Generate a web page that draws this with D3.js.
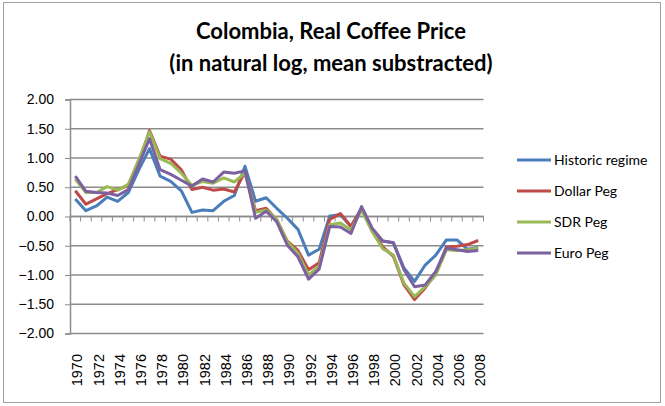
<!DOCTYPE html>
<html>
<head>
<meta charset="utf-8">
<script src="https://cdn.jsdelivr.net/npm/d3@7"></script>
<style>
  body { margin: 0; background: #fff; }
  svg { display: block; }
</style>
</head>
<body>
<div id="container"></div>
<script>
/* CONSTANTS AND GLOBALS */
const width = 665,
    height = 406,
    margin = { top: 99.5, bottom: 72.5, left: 70, right: 181.5 };

// DATA
const years = d3.range(1970, 2009);
const historic = [0.30, 0.10, 0.18, 0.33, 0.26, 0.41, 0.80, 1.16, 0.69, 0.60,
    0.44, 0.07, 0.11, 0.10, 0.26, 0.36, 0.86, 0.26, 0.32, 0.14,
    -0.03, -0.22, -0.66, -0.56, 0.01, 0.03, -0.17, 0.14, -0.23, -0.42,
    -0.45, -0.88, -1.11, -0.83, -0.66, -0.40, -0.40, -0.56, -0.53];
const dollarPeg = [0.44, 0.21, 0.30, 0.39, 0.46, 0.53, 0.92, 1.47, 1.03, 0.98,
    0.80, 0.46, 0.50, 0.45, 0.47, 0.42, 0.76, 0.10, 0.14, -0.06,
    -0.42, -0.58, -0.91, -0.79, -0.05, 0.05, -0.17, 0.14, -0.24, -0.52,
    -0.68, -1.17, -1.42, -1.22, -0.97, -0.52, -0.51, -0.48, -0.41];
const sdrPeg = [0.64, 0.41, 0.41, 0.51, 0.45, 0.55, 0.98, 1.45, 0.99, 0.91,
    0.74, 0.53, 0.60, 0.57, 0.66, 0.59, 0.74, 0.07, 0.11, -0.05,
    -0.43, -0.63, -1.00, -0.85, -0.14, -0.11, -0.23, 0.11, -0.26, -0.55,
    -0.66, -1.14, -1.37, -1.20, -1.00, -0.57, -0.58, -0.57, -0.54];
const euroPeg = [0.69, 0.43, 0.41, 0.40, 0.36, 0.46, 0.89, 1.33, 0.80, 0.72,
    0.62, 0.52, 0.64, 0.59, 0.76, 0.74, 0.78, -0.03, 0.09, -0.09,
    -0.49, -0.69, -1.07, -0.90, -0.17, -0.18, -0.29, 0.17, -0.20, -0.42,
    -0.45, -0.91, -1.20, -1.17, -0.94, -0.54, -0.57, -0.60, -0.58];
const seriesNames = ["Historic regime", "Dollar Peg", "SDR Peg", "Euro Peg"];
const seriesColors = ["#4a7ebb", "#be4b48", "#98b954", "#7d60a0"];
const yTicks = [2, 1.5, 1, 0.5, 0, -0.5, -1, -1.5, -2];

const series = [historic, dollarPeg, sdrPeg, euroPeg].map((vals, i) => ({
    name: seriesNames[i],
    color: seriesColors[i],
    values: vals.map((v, j) => ({ year: years[j], value: v }))
}));

// SVG
const svg = d3.select("#container")
    .append("svg")
    .attr("width", width)
    .attr("height", height);

// outer chart border
svg.append("rect")
    .attr("x", 3.5).attr("y", 2.5)
    .attr("width", 657).attr("height", 400)
    .attr("fill", "white")
    .attr("stroke", "#a0a0a0");

// TITLE
svg.append("text")
    .attr("x", 331).attr("y", 39)
    .attr("text-anchor", "middle")
    .attr("font-family", "Lato, 'Open Sans', sans-serif")
    .attr("font-weight", "bold")
    .attr("font-size", 22)
    .text("Colombia, Real Coffee Price");
svg.append("text")
    .attr("x", 331).attr("y", 71)
    .attr("text-anchor", "middle")
    .attr("font-family", "Lato, 'Open Sans', sans-serif")
    .attr("font-weight", "bold")
    .attr("font-size", 22)
    .text("(in natural log, mean substracted)");

// SCALES
const xScale = d3.scalePoint()
    .domain(years)
    .range([margin.left, width - margin.right])
    .padding(0.5);
const step = xScale.step();

const yScale = d3.scaleLinear()
    .domain([-2, 2])
    .range([height - margin.bottom, margin.top]);

// GRIDLINES
svg.selectAll("line.grid")
    .data(yTicks)
    .join("line")
    .attr("class", "grid")
    .attr("x1", margin.left)
    .attr("x2", width - margin.right)
    .attr("y1", d => yScale(d))
    .attr("y2", d => yScale(d))
    .attr("stroke", "#8c8c8c")
    .attr("stroke-width", 1.3);

// Y AXIS
const yAxis = d3.axisLeft(yScale)
    .tickValues(yTicks)
    .tickSize(5)
    .tickPadding(11)
    .tickFormat(d3.format(".2f"));
const yG = svg.append("g")
    .attr("transform", `translate(${margin.left},0)`)
    .call(yAxis);
yG.select(".domain").attr("stroke", "#8c8c8c").attr("stroke-width", 1.5);
yG.selectAll(".tick line").attr("stroke", "#8c8c8c");
yG.selectAll("text")
    .attr("font-family", "'Liberation Sans', Arial, sans-serif")
    .attr("font-size", 14)
    .attr("fill", "#000");

// X AXIS at zero, ticks between categories
const boundaries = d3.range(years.length + 1).map(k => margin.left + k * step);
svg.append("line")
    .attr("x1", margin.left).attr("x2", width - margin.right)
    .attr("y1", yScale(0)).attr("y2", yScale(0))
    .attr("stroke", "#8c8c8c").attr("stroke-width", 1.5);
svg.selectAll("line.xtick")
    .data(boundaries)
    .join("line")
    .attr("class", "xtick")
    .attr("x1", d => d).attr("x2", d => d)
    .attr("y1", yScale(0)).attr("y2", yScale(0) + 5)
    .attr("stroke", "#8c8c8c");

// X LABELS (every second year, rotated)
svg.selectAll("text.xlabel")
    .data(years.filter((d, i) => i % 2 === 0))
    .join("text")
    .attr("class", "xlabel")
    .attr("transform", d => `translate(${xScale(d) + 7}, 354) rotate(-90)`)
    .attr("text-anchor", "end")
    .attr("font-family", "'Liberation Sans', Arial, sans-serif")
    .attr("font-size", 14.5)
    .text(d => d);

// LINES
const lineGen = d3.line()
    .x(d => xScale(d.year))
    .y(d => yScale(d.value));

svg.selectAll("path.series")
    .data(series)
    .join("path")
    .attr("class", "series")
    .attr("d", d => lineGen(d.values))
    .attr("fill", "none")
    .attr("stroke", d => d.color)
    .attr("stroke-width", 3)
    .attr("stroke-linejoin", "round");

// LEGEND
const legend = svg.selectAll("g.legend")
    .data(series)
    .join("g")
    .attr("class", "legend")
    .attr("transform", (d, i) => `translate(517, ${160 + i * 31})`);
legend.append("line")
    .attr("x1", 0).attr("x2", 34)
    .attr("stroke", d => d.color)
    .attr("stroke-width", 3);
legend.append("text")
    .attr("x", 37).attr("y", 5)
    .attr("font-family", "Lato, 'Open Sans', sans-serif")
    .attr("font-size", 14)
    .text(d => d.name);
</script>
</body>
</html>
